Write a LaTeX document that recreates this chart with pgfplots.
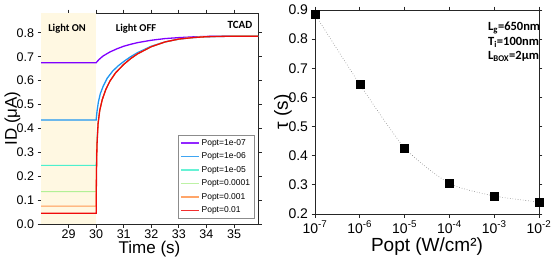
\documentclass[border=0pt]{standalone}
\usepackage{fontspec}
\setmainfont{Liberation Sans}
\newfontfamily\calibri{Carlito}
\usepackage{pgfplots}
\pgfplotsset{compat=1.18}

\definecolor{onshade}{RGB}{255,248,226}
\definecolor{rbpurple}{RGB}{128,0,255}
\definecolor{rbblue}{RGB}{30,150,240}
\definecolor{rbcyan}{RGB}{77,240,206}
\definecolor{rbgreen}{RGB}{178,240,150}
\definecolor{rborange}{RGB}{255,150,79}
\definecolor{rbred}{RGB}{240,10,10}

\pgfplotsset{
  panel/.style={
    scale only axis,
    axis line style={line width=1pt, black!85},
    tick align=outside,
    major tick length=3.5pt,
    tick style={line width=0.8pt, black!85},
    /pgf/number format/assume math mode=true,
  }
}

\begin{document}
\begin{tikzpicture}
\path[use as bounding box] (0,0) rectangle (553pt,258pt);

% Transient drain current after the light is switched off
\begin{axis}[panel,
  at={(41pt,34pt)}, anchor=south west,
  width=217pt, height=211pt,
  xmin=28, xmax=35.87, ymin=0, ymax=0.883,
  xtick={29,30,31,32,33,34,35},
  ytick={0,0.1,0.2,0.3,0.4,0.5,0.6,0.7,0.8},
  yticklabel style={/pgf/number format/.cd, fixed, fixed zerofill, precision=1},
  tick label style={font=\fontsize{12.5}{14}\selectfont},
  xticklabel style={yshift=1.5pt},
  xlabel={Time (s)}, ylabel={ID (μA)},
  label style={font=\fontsize{17}{17}\selectfont},
  xlabel style={at={(axis description cs:0.5,-0.12)}, anchor=center},
  ylabel style={at={(axis description cs:-0.132,0.5)}, anchor=center},
  legend style={at={(0.985,0.025)}, anchor=south east, draw=black!45,
    font=\fontsize{8.5}{9.5}\selectfont, cells={anchor=west},
    row sep=2pt, inner sep=2.5pt},
  legend image code/.code={\draw[#1, line width=1.4pt, opacity=0.85] (0pt,0pt) -- (18pt,0pt);},
]
\fill[onshade] (axis cs:28,0) rectangle (axis cs:30,0.883);

\addplot[rbpurple, line width=1.3pt] coordinates {
  (28,0.675) (30,0.675) (30.1,0.688) (30.25,0.703) (30.5,0.720) (30.75,0.733)
  (31,0.744) (31.25,0.752) (31.5,0.759) (32,0.769) (32.5,0.776) (33,0.780)
  (33.5,0.783) (34,0.785) (35,0.786) (35.87,0.786)};
\addlegendentry{Popt=1e-07}

\addplot[rbblue, line width=1.3pt] coordinates {
  (28,0.435) (30,0.435) (30.03,0.470) (30.08,0.510) (30.15,0.545) (30.25,0.575)
  (30.4,0.610) (30.6,0.640) (30.8,0.662) (31,0.680) (31.25,0.700) (31.5,0.717)
  (32,0.744) (32.5,0.762) (33,0.774) (33.5,0.780) (34,0.784) (35,0.786) (35.87,0.786)};
\addlegendentry{Popt=1e-06}

\addplot[rbcyan, line width=1pt] coordinates {
  (28,0.245) (30,0.245) (30.02,0.33) (30.06,0.42) (30.13,0.475) (30.22,0.520)
  (30.35,0.563) (30.5,0.598) (30.7,0.632) (31,0.668) (31.25,0.692) (31.5,0.712)
  (32,0.742) (32.5,0.762) (33,0.774) (33.5,0.780) (34,0.784) (35,0.786) (35.87,0.786)};
\addlegendentry{Popt=1e-05}

\addplot[rbgreen, line width=1pt] coordinates {
  (28,0.135) (30,0.135) (30.02,0.30) (30.07,0.42) (30.13,0.475) (30.22,0.520)
  (30.35,0.563) (30.5,0.598) (30.7,0.632) (31,0.668) (31.25,0.692) (31.5,0.712)
  (32,0.742) (32.5,0.762) (33,0.774) (33.5,0.780) (34,0.784) (35,0.786) (35.87,0.786)};
\addlegendentry{Popt=0.0001}

\addplot[rborange, line width=1pt] coordinates {
  (28,0.075) (30,0.075) (30.01,0.22) (30.03,0.33) (30.07,0.42) (30.13,0.475)
  (30.22,0.520) (30.35,0.563) (30.5,0.598) (30.7,0.632) (31,0.668) (31.25,0.692)
  (31.5,0.712) (32,0.742) (32.5,0.762) (33,0.774) (33.5,0.780) (34,0.784)
  (35,0.786) (35.87,0.786)};
\addlegendentry{Popt=0.001}

\addplot[rbred, line width=1.3pt] coordinates {
  (28,0.045) (30,0.045) (30.01,0.20) (30.03,0.33) (30.07,0.42) (30.13,0.475)
  (30.22,0.520) (30.35,0.563) (30.5,0.598) (30.7,0.632) (31,0.668) (31.25,0.692)
  (31.5,0.712) (32,0.742) (32.5,0.762) (33,0.774) (33.5,0.780) (34,0.784)
  (35,0.786) (35.87,0.786)};
\addlegendentry{Popt=0.01}

\node[font=\calibri\bfseries\fontsize{10.5}{12}\selectfont] at (axis description cs:0.12,0.924) {Light ON};
\node[font=\calibri\bfseries\fontsize{10.5}{12}\selectfont] at (axis description cs:0.438,0.924) {Light OFF};
\node[font=\calibri\bfseries\fontsize{11}{12}\selectfont] at (axis description cs:0.917,0.943) {TCAD};
\end{axis}

% Recovery time constant versus optical power density
\begin{axis}[panel,
  at={(315pt,44pt)}, anchor=south west,
  width=224pt, height=204pt,
  xmode=log, xmin=1e-7, xmax=1e-2, ymin=0.2, ymax=0.9,
  xminorticks=false,
  clip mode=individual,
  xtick={1e-7,1e-6,1e-5,1e-4,1e-3,1e-2},
  xticklabels={10\textsuperscript{-7},10\textsuperscript{-6},10\textsuperscript{-5},
               10\textsuperscript{-4},10\textsuperscript{-3},10\textsuperscript{-2}},
  ytick={0.2,0.3,0.4,0.5,0.6,0.7,0.8,0.9},
  yticklabel style={/pgf/number format/.cd, fixed, fixed zerofill, precision=1},
  tick label style={font=\fontsize{14}{16}\selectfont},
  xlabel={Popt (W/cm²)}, ylabel={τ (s)},
  label style={font=\fontsize{19}{19}\selectfont},
  xlabel style={at={(axis description cs:0.5,-0.16)}, anchor=center},
  ylabel style={at={(axis description cs:-0.143,0.5)}, anchor=center},
]
\addplot[gray, dotted, line width=0.6pt, smooth, tension=0.4] coordinates {
  (1e-7,0.885) (1e-6,0.645) (1e-5,0.427) (1e-4,0.305) (1e-3,0.262) (1e-2,0.241)};
\addplot[only marks, mark=square*, mark size=4pt, black] coordinates {
  (1e-7,0.885) (1e-6,0.645) (1e-5,0.427) (1e-4,0.305) (1e-3,0.262) (1e-2,0.241)};

\node[anchor=west, font=\calibri\bfseries\fontsize{12.5}{14}\selectfont]
  at (axis description cs:0.757,0.91) {L\textsubscript{g}=650nm};
\node[anchor=west, font=\calibri\bfseries\fontsize{12.5}{14}\selectfont]
  at (axis description cs:0.757,0.842) {T\textsubscript{i}=100nm};
\node[anchor=west, font=\calibri\bfseries\fontsize{12.5}{14}\selectfont]
  at (axis description cs:0.757,0.773) {L\textsubscript{BOX}=2μm};
\end{axis}
\end{tikzpicture}
\end{document}
